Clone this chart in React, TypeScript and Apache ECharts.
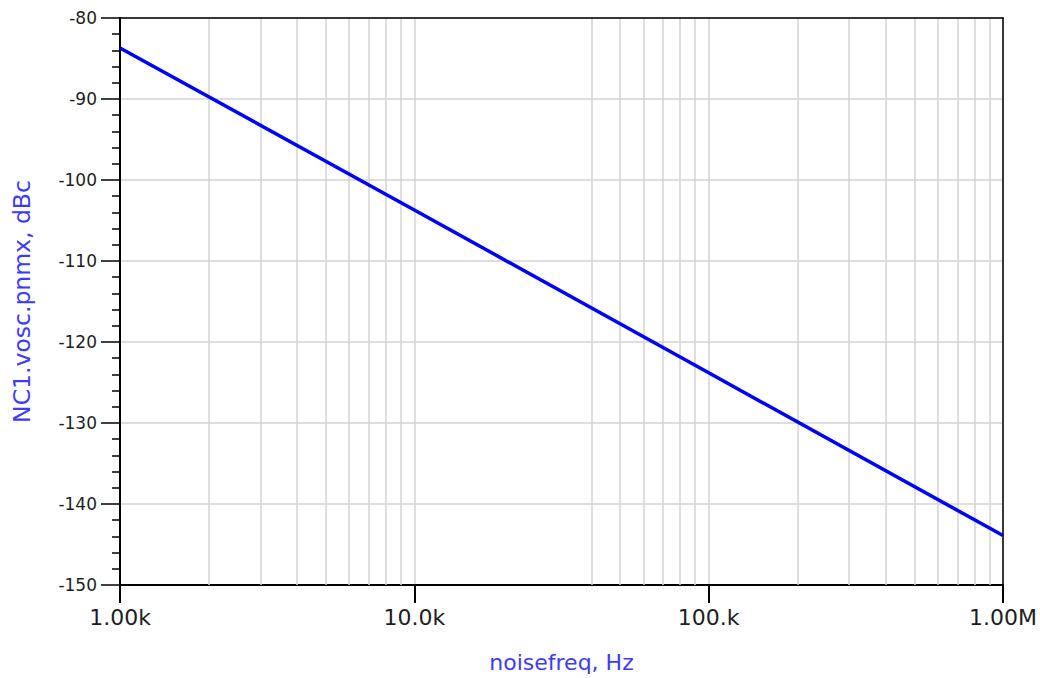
import React, { useEffect, useRef } from "react";
import * as echarts from "echarts";

// Phase-noise sweep: offset frequency (Hz) vs. noise level (dBc)
const noiseFreq = [1000, 10000, 100000, 1000000];
const pnmxDbc = [-83.7, -103.7, -123.8, -143.9];

// Decade tick labels on the frequency axis
const freqTickValues = [1000, 10000, 100000, 1000000];
const freqTickLabels = ["1.00k", "10.0k", "100.k", "1.00M"];

// Intermediate frequencies that carry a vertical grid line
const freqGridValues = [
  2000, 3000, 4000, 5000, 6000, 7000, 8000, 9000,
  40000, 50000, 60000, 70000, 80000, 90000,
  200000, 300000, 400000, 500000, 600000, 700000, 800000, 900000,
];

const GRID_GRAY = "#d3d3d3";
const NAME_BLUE = "#3b3bff";
const FONT = "DejaVu Sans";

export default function App() {
  const ref = useRef<HTMLDivElement>(null);

  useEffect(() => {
    if (!ref.current) return;
    const chart = echarts.init(ref.current, undefined, { renderer: "svg" });

    const labelFor = (v: number) => {
      const i = freqTickValues.findIndex((t) => Math.abs(t - v) / t < 1e-6);
      return i >= 0 ? freqTickLabels[i] : "";
    };

    // plain black frame edges (top and right)
    const frameAxis = {
      axisLine: { show: true, lineStyle: { color: "#000000", width: 1.5 } },
      axisTick: { show: false },
      axisLabel: { show: false },
      splitLine: { show: false },
      z: 3,
    };

    chart.setOption({
      animation: false,
      backgroundColor: "#ffffff",
      grid: {
        left: 120,
        right: 36,
        top: 18,
        bottom: 93,
        containLabel: false,
      },
      xAxis: [
        {
          type: "log",
          logBase: 10,
          min: 1000,
          max: 1000000,
          name: "noisefreq, Hz",
          nameLocation: "middle",
          nameGap: 66,
          nameTextStyle: { color: NAME_BLUE, fontFamily: FONT, fontSize: 22 },
          axisLine: { show: true, lineStyle: { color: "#000000", width: 2 } },
          axisTick: { show: true, inside: false, length: 18, lineStyle: { color: "#000000", width: 2 } },
          minorTick: { show: false },
          axisLabel: {
            color: "#1e1e1e",
            fontFamily: FONT,
            fontSize: 22,
            margin: 21,
            formatter: (v: number) => labelFor(v),
            showMinLabel: true,
            showMaxLabel: true,
          },
          splitLine: { show: true, lineStyle: { color: GRID_GRAY, width: 1.5 } },
        },
        { type: "log", logBase: 10, min: 1000, max: 1000000, position: "top", ...frameAxis },
      ],
      yAxis: [
        {
          type: "value",
          min: -150,
          max: -80,
          interval: 10,
          name: "NC1.vosc.pnmx, dBc",
          nameLocation: "middle",
          nameGap: 86,
          nameRotate: 90,
          nameTextStyle: { color: NAME_BLUE, fontFamily: FONT, fontSize: 23.5 },
          axisLine: { show: true, lineStyle: { color: "#000000", width: 2 } },
          axisTick: { show: true, inside: false, length: 19, lineStyle: { color: "#000000", width: 1.5 } },
          minorTick: { show: true, splitNumber: 5, length: 8, lineStyle: { color: "#000000", width: 1.5 } },
          axisLabel: {
            color: "#1e1e1e",
            fontFamily: FONT,
            fontSize: 17,
            margin: 23,
          },
          splitLine: { show: true, lineStyle: { color: GRID_GRAY, width: 1.5 } },
        },
        { type: "value", min: -150, max: -80, interval: 10, position: "right", ...frameAxis },
      ],
      series: [
        {
          type: "line",
          xAxisIndex: 0,
          yAxisIndex: 0,
          data: noiseFreq.map((f, i) => [f, pnmxDbc[i]]),
          showSymbol: false,
          symbol: "none",
          lineStyle: { color: "#0000ff", width: 3.5 },
          z: 8,
          markLine: {
            silent: true,
            symbol: ["none", "none"],
            label: { show: false },
            lineStyle: { color: GRID_GRAY, width: 1.5, type: "solid" },
            data: freqGridValues.map((f) => ({ xAxis: f })),
            z: 1,
          },
        },
      ],
    });

    return () => chart.dispose();
  }, []);

  return (
    <div
      ref={ref}
      style={{ position: "fixed", left: 0, top: 0, width: 1040, height: 678, background: "#fff" }}
    />
  );
}
